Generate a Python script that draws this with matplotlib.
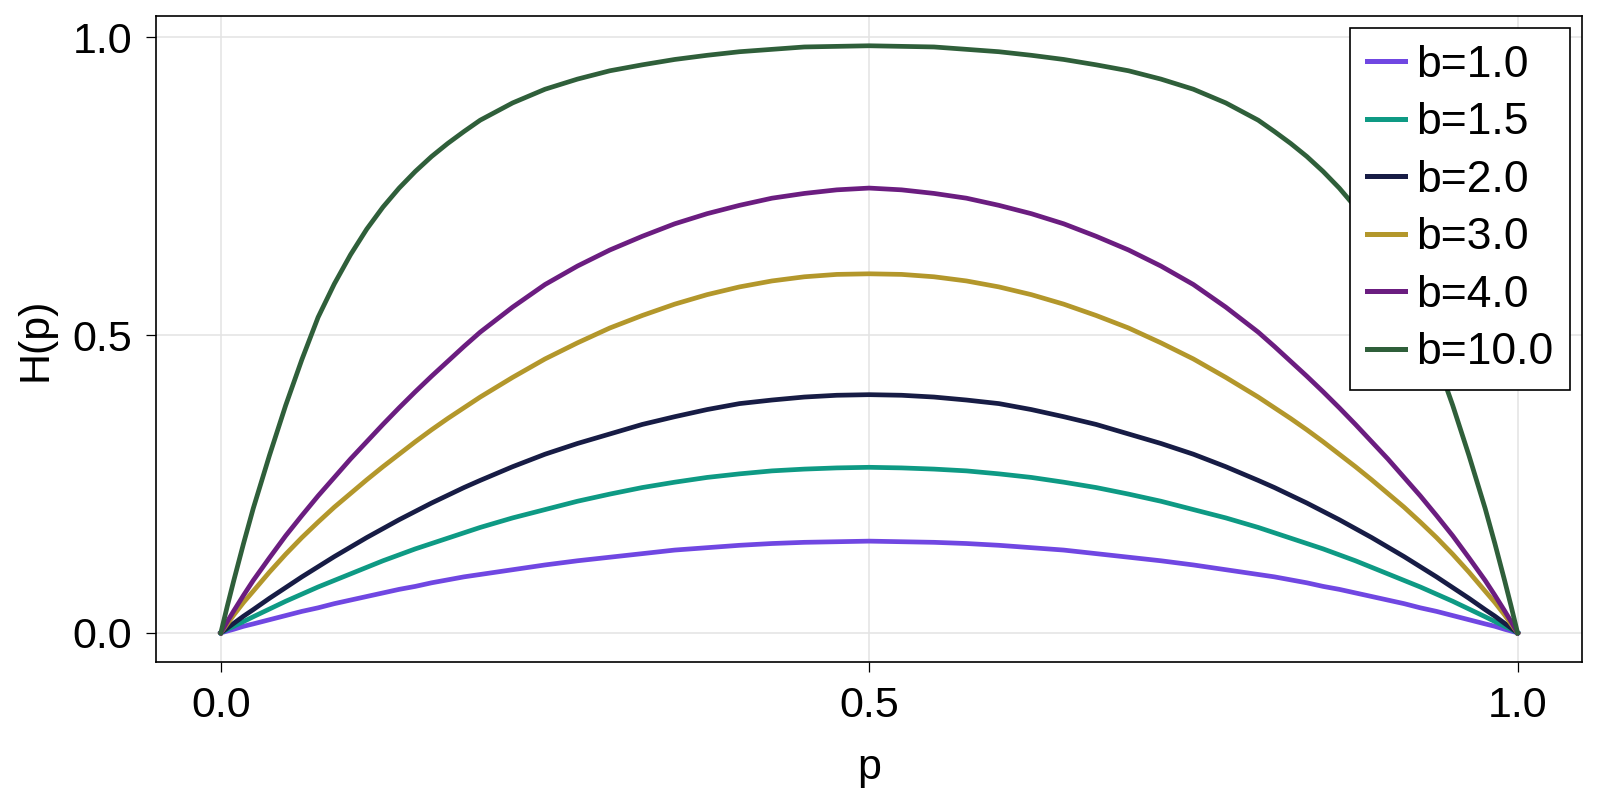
import matplotlib
matplotlib.use("Agg")
import matplotlib.pyplot as plt

# values
p = [0, 0.005, 0.01, 0.0175, 0.025, 0.0375, 0.05, 0.0625, 0.075, 0.0875, 0.1, 0.1125, 0.125, 0.1375, 0.15,
     0.1625, 0.175, 0.1875, 0.2, 0.225, 0.25, 0.275, 0.3, 0.325, 0.35, 0.375, 0.4, 0.425, 0.45, 0.475, 0.5,
     0.525, 0.55, 0.575, 0.6, 0.625, 0.65, 0.675, 0.7, 0.725, 0.75, 0.775, 0.8, 0.8125, 0.825, 0.8375,
     0.85, 0.8625, 0.875, 0.8875, 0.9, 0.9125, 0.925, 0.9375, 0.95, 0.9625, 0.975, 0.9825, 0.99, 0.995, 1]

h_b1 = [0, 0.003, 0.006, 0.011, 0.015, 0.022, 0.029, 0.036, 0.042, 0.049, 0.055, 0.061, 0.067, 0.073, 0.078,
        0.084, 0.089, 0.094, 0.098, 0.106, 0.114, 0.121, 0.127, 0.133, 0.139, 0.143, 0.147, 0.150, 0.152, 0.153, 0.154,
        0.153, 0.152, 0.150, 0.147, 0.143, 0.139, 0.133, 0.127, 0.121, 0.114, 0.106, 0.098, 0.094, 0.089, 0.084,
        0.078, 0.073, 0.067, 0.061, 0.055, 0.049, 0.042, 0.036, 0.029, 0.022, 0.015, 0.011, 0.006, 0.003, 0]
h_b15 = [0, 0.006, 0.011, 0.019, 0.027, 0.040, 0.053, 0.065, 0.077, 0.088, 0.099, 0.110, 0.121, 0.131, 0.141,
         0.150, 0.159, 0.168, 0.177, 0.193, 0.207, 0.221, 0.233, 0.244, 0.253, 0.261, 0.267, 0.272, 0.275, 0.277, 0.278,
         0.277, 0.275, 0.272, 0.267, 0.261, 0.253, 0.244, 0.233, 0.221, 0.207, 0.193, 0.177, 0.168, 0.159, 0.150,
         0.141, 0.131, 0.121, 0.110, 0.099, 0.088, 0.077, 0.065, 0.053, 0.040, 0.027, 0.019, 0.011, 0.006, 0]
h_b2 = [0, 0.008, 0.016, 0.028, 0.039, 0.058, 0.076, 0.094, 0.111, 0.128, 0.144, 0.160, 0.175, 0.190, 0.204,
        0.218, 0.231, 0.244, 0.256, 0.279, 0.300, 0.318, 0.334, 0.350, 0.363, 0.375, 0.385, 0.391, 0.396, 0.399, 0.400,
        0.399, 0.396, 0.391, 0.385, 0.375, 0.363, 0.350, 0.334, 0.318, 0.300, 0.279, 0.256, 0.244, 0.231, 0.218,
        0.204, 0.190, 0.175, 0.160, 0.144, 0.128, 0.111, 0.094, 0.076, 0.058, 0.039, 0.028, 0.016, 0.008, 0]
h_b3 = [0, 0.015, 0.030, 0.051, 0.070, 0.102, 0.132, 0.160, 0.186, 0.211, 0.234, 0.257, 0.279, 0.300, 0.321,
        0.341, 0.360, 0.378, 0.396, 0.429, 0.460, 0.487, 0.512, 0.533, 0.552, 0.568, 0.581, 0.591, 0.598, 0.602, 0.603,
        0.602, 0.598, 0.591, 0.581, 0.568, 0.552, 0.533, 0.512, 0.487, 0.460, 0.429, 0.396, 0.378, 0.360, 0.341,
        0.321, 0.300, 0.279, 0.257, 0.234, 0.211, 0.186, 0.160, 0.132, 0.102, 0.070, 0.051, 0.030, 0.015, 0]
h_b4 = [0, 0.019, 0.037, 0.063, 0.088, 0.126, 0.163, 0.197, 0.230, 0.261, 0.292, 0.321, 0.350, 0.378, 0.405,
        0.431, 0.456, 0.481, 0.505, 0.547, 0.585, 0.616, 0.643, 0.666, 0.687, 0.704, 0.718, 0.730, 0.738, 0.744, 0.747,
        0.744, 0.738, 0.730, 0.718, 0.704, 0.687, 0.666, 0.643, 0.616, 0.585, 0.547, 0.505, 0.481, 0.456, 0.431,
        0.405, 0.378, 0.350, 0.321, 0.292, 0.261, 0.230, 0.197, 0.163, 0.126, 0.088, 0.063, 0.037, 0.019, 0]
h_b10 = [0, 0.045, 0.088, 0.150, 0.209, 0.298, 0.382, 0.459, 0.530, 0.586, 0.635, 0.678, 0.715, 0.747, 0.775,
         0.800, 0.822, 0.842, 0.861, 0.890, 0.913, 0.930, 0.944, 0.954, 0.963, 0.970, 0.976, 0.980, 0.984, 0.985, 0.986,
         0.985, 0.984, 0.980, 0.976, 0.970, 0.963, 0.954, 0.944, 0.930, 0.913, 0.890, 0.861, 0.842, 0.822, 0.800,
         0.775, 0.747, 0.715, 0.678, 0.635, 0.586, 0.530, 0.459, 0.382, 0.298, 0.209, 0.150, 0.088, 0.045, 0]

labels = ['b=1.0', 'b=1.5', 'b=2.0', 'b=3.0', 'b=4.0', 'b=10.0']
series = [h_b1, h_b15, h_b2, h_b3, h_b4, h_b10]
colors = ['#7047e2', '#0e9a84', '#171c45', '#b3972b', '#6b1d80', '#2f5f3a']

plt.rcParams['font.family'] = ['Liberation Sans', 'DejaVu Sans']

fig = plt.figure(figsize=(16, 8), dpi=100)
ax = fig.add_axes([0.0975, 0.1725, 0.8915, 0.8075])

for h, lab, c in zip(series, labels, colors):
    ax.plot(p, h, color=c, lw=3.4, label=lab, solid_joinstyle='round')

ax.set_xlim(-0.05, 1.05)
ax.set_ylim(-0.049, 1.036)
ax.set_xticks([0, 0.5, 1.0])
ax.set_yticks([0, 0.5, 1.0])
ax.set_xticklabels(['0.0', '0.5', '1.0'])
ax.set_yticklabels(['0.0', '0.5', '1.0'])
ax.grid(True, color='#e3e3e3', lw=1.1)
ax.set_axisbelow(True)
for s in ax.spines.values():
    s.set_linewidth(1.2)
ax.tick_params(labelsize=31, length=7, width=0.9, pad=10)

ax.set_xlabel('p', fontsize=31, labelpad=16)
ax.set_ylabel('H(p)', fontsize=31, labelpad=12)

leg = ax.legend(loc='upper right', fontsize=32, frameon=True, fancybox=False,
                borderaxespad=0.27, handlelength=0.85, handletextpad=0.25,
                labelspacing=0.37, borderpad=0.38)
leg.get_frame().set_edgecolor('black')
leg.get_frame().set_linewidth(1.2)
leg.get_frame().set_alpha(1)
for line in leg.get_lines():
    line.set_linewidth(3.6)

fig.savefig('out.png', dpi=100)
